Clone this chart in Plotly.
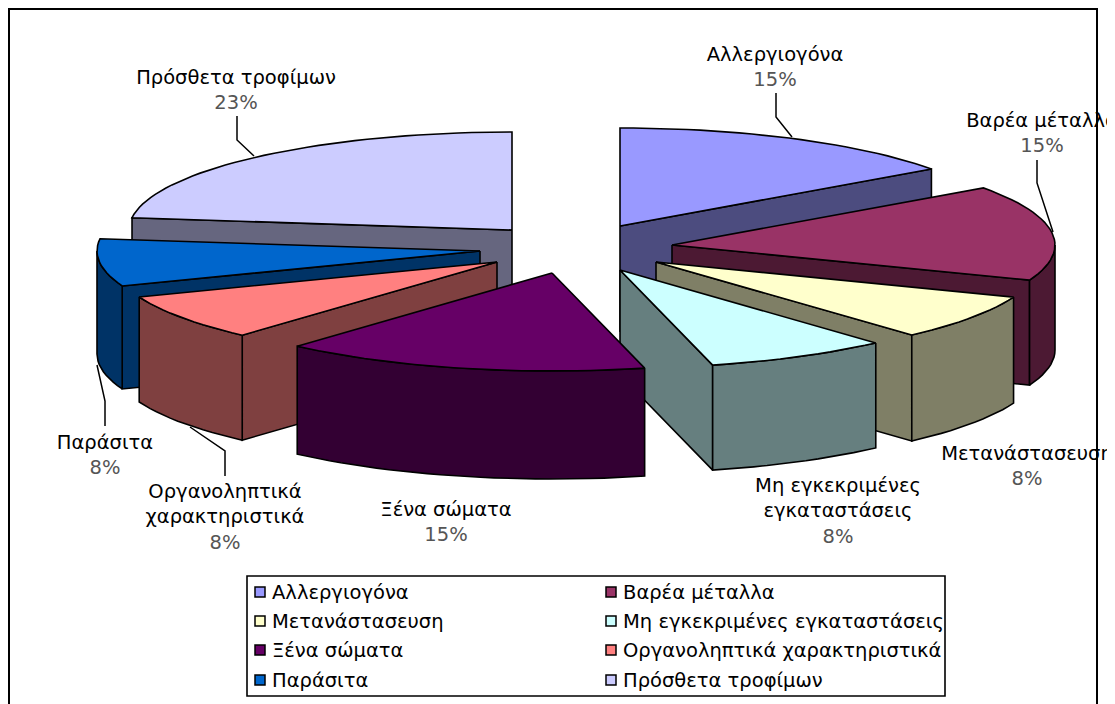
import math
import plotly.graph_objects as go

# ---- data ----
categories = ["Αλλεργιογόνα", "Βαρέα μέταλλα", "Μετανάστασευση", "Μη εγκεκριμένες εγκαταστάσεις",
              "Ξένα σώματα", "Οργανοληπτικά χαρακτηριστικά", "Παράσιτα", "Πρόσθετα τροφίμων"]
values = [15, 15, 8, 8, 15, 8, 8, 23]
percent_labels = ["15%", "15%", "8%", "8%", "15%", "8%", "8%", "23%"]
label_lines = [["Αλλεργιογόνα"], ["Βαρέα μέταλλα"], ["Μετανάστασευση"],
               ["Μη εγκεκριμένες", "εγκαταστάσεις"], ["Ξένα σώματα"],
               ["Οργανοληπτικά", "χαρακτηριστικά"], ["Παράσιτα"], ["Πρόσθετα τροφίμων"]]

# ---- style / layout ----
top_colors = ["#9999FF", "#993366", "#FFFFCC", "#CCFFFF", "#660066", "#FF8080", "#0066CC", "#CCCCFF"]
side_colors = ["#4C4C7F", "#4C1933", "#7F7F66", "#667F7F", "#330033", "#7F4040", "#003366", "#66667F"]
apex_x = [620, 672, 656, 620, 552, 497, 480, 512]
apex_y = [226, 245, 262, 270, 273, 262, 251, 230]
depths = [105, 105, 106, 105, 108, 105, 103, 105]
draw_order = [0, 7, 1, 6, 2, 5, 3, 4]
# small perspective correction of the slice boundaries, in degrees
perspective_shift = [0, 0.4, 3.0, 1.3, 0.4, 2.1, 0.7, 0, 0]
RX, RY = 383, 98
label_x = [775, 1042, 1027, 838, 446, 225, 105, 236]
label_y = [56, 122, 455, 487, 511, 493, 444, 79]
LINE_H = 25.5
leaders = [([776, 776, 792], [93, 117, 137]),
           ([1037, 1037, 1053], [160, 183, 232]),
           ([105, 105, 97], [426, 401, 365]),
           ([225, 225, 190], [476, 451, 427]),
           ([237, 237, 254], [116, 140, 156])]
FONT = "DejaVu Sans, Verdana, sans-serif"
FS = 19.5

fig = go.Figure()


def pt(i, a, dz=0):
    r = math.radians(a)
    return apex_x[i] + RX * math.sin(r), apex_y[i] - RY * math.cos(r) + dz


def poly(xs, ys, fill, name):
    fig.add_trace(go.Scatter(x=xs + xs[:1], y=ys + ys[:1], mode="lines", fill="toself", fillcolor=fill,
                             line=dict(color="black", width=1.6), name=name, showlegend=False,
                             hoverinfo="text", text=name))


total = sum(values)
bounds, acc = [], 0
for k, v in enumerate(values):
    bounds.append(acc / total * 360 + perspective_shift[k])
    acc += v
bounds.append(360)

for i in draw_order:
    a0, a1 = bounds[i], bounds[i + 1]
    name = categories[i]
    ax, ay = apex_x[i], apex_y[i]
    dz = depths[i]
    # radial faces turned toward the viewer
    for a, show in ((a0, math.sin(math.radians(a0)) < 0), (a1, math.sin(math.radians(a1)) > 0)):
        if show:
            px, py = pt(i, a)
            poly([ax, px, px, ax], [ay, py, py + dz, ay + dz], side_colors[i], name)
    # outer rim, front half only
    b0, b1 = max(a0, 90), min(a1, 270)
    if b1 > b0:
        n = max(4, int((b1 - b0) / 2))
        angles = [b0 + (b1 - b0) * k / n for k in range(n + 1)]
        up = [pt(i, a) for a in angles]
        lo = [pt(i, a, dz) for a in reversed(angles)]
        poly([p[0] for p in up + lo], [p[1] for p in up + lo], side_colors[i], name)
    # top face
    n = max(4, int((a1 - a0) / 2))
    arc = [pt(i, a0 + (a1 - a0) * k / n) for k in range(n + 1)]
    poly([ax] + [p[0] for p in arc], [ay] + [p[1] for p in arc], top_colors[i], name)

# leader lines
for lx, ly in leaders:
    fig.add_trace(go.Scatter(x=lx, y=ly, mode="lines", line=dict(color="black", width=1.5),
                             showlegend=False, hoverinfo="skip"))

# data labels
for i in range(len(categories)):
    lines = label_lines[i]
    ys = [label_y[i] + k * LINE_H for k in range(len(lines))]
    fig.add_trace(go.Scatter(x=[label_x[i]] * len(lines), y=ys, mode="text", text=lines,
                             textposition="middle center", textfont=dict(family=FONT, size=FS, color="black"),
                             showlegend=False, hoverinfo="skip"))
    fig.add_trace(go.Scatter(x=[label_x[i]], y=[label_y[i] + len(lines) * LINE_H], mode="text",
                             text=[percent_labels[i]], textposition="middle center",
                             textfont=dict(family=FONT, size=FS, color="#555555"),
                             showlegend=False, hoverinfo="skip"))

# legend (two columns, four rows)
leg_col_x = [260, 611]
leg_row_y = [592, 621, 650, 680]
for i, c in enumerate(categories):
    cx, cy = leg_col_x[i % 2], leg_row_y[i // 2]
    fig.add_trace(go.Scatter(x=[cx], y=[cy], mode="markers",
                             marker=dict(symbol="square", size=10, color=top_colors[i],
                                         line=dict(color="black", width=1.5)),
                             name=c, showlegend=False, hoverinfo="skip"))
    fig.add_trace(go.Scatter(x=[cx + 12], y=[cy + 2], mode="text", text=[c], textposition="middle right",
                             textfont=dict(family=FONT, size=FS, color="black"),
                             showlegend=False, hoverinfo="skip"))

fig.update_layout(
    width=1115, height=704, margin=dict(l=0, r=8, t=0, b=0),
    paper_bgcolor="white", plot_bgcolor="white", showlegend=False,
    xaxis=dict(range=[0, 1107], visible=False, fixedrange=True),
    yaxis=dict(range=[704, 0], visible=False, fixedrange=True),
    shapes=[
        dict(type="rect", x0=247, x1=945, y0=576, y1=696, line=dict(color="black", width=1.6),
             fillcolor="white", layer="below"),
        dict(type="path", path="M 9,704 L 9,9 L 1097,9 L 1097,704", line=dict(color="black", width=2),
             layer="below"),
    ],
)
fig.write_html("out.html", post_script="document.body.style.margin='0';document.body.style.overflow='hidden';",
               config=dict(displayModeBar=False))
